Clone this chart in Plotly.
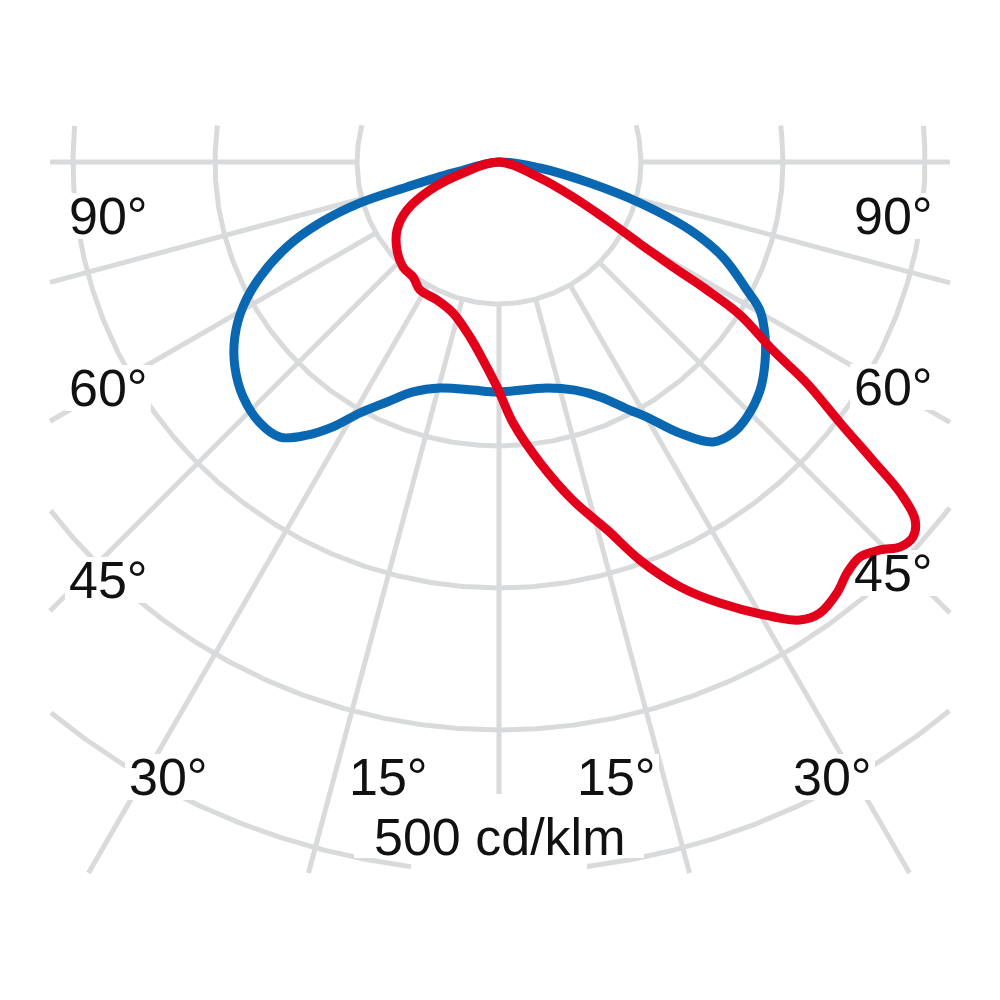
import numpy as np
import plotly.graph_objects as go

# ---------------- data (gamma = angle from nadir in degrees, intensity in cd/klm)
# C0-C180 plane (blue)
blue_gamma = [-90, -76.6, -74.8, -73.6, -71.2, -68.2, -64.3, -60.5, -56.5, -52.2,
              -47.4, -42.5, -38.5, -35.1, -32.1, -29.0, -25.0, -20.5, -14.6, -6.5,
              -0.5, 12.0, 18.4, 23.3, 27.8, 30.1, 33.7, 37.4, 40.8, 44.2,
              48.9, 52.9, 56.7, 60.4, 62.7, 67.0, 70.4, 73.8, 77.0, 81.7, 90]
blue_I = [0, 33.3, 67.1, 102.0, 133.2, 160.8, 186.8, 207.2, 223.1, 235.4,
          244.7, 249.2, 247.6, 235.1, 220.2, 202.1, 186.5, 172.9, 164.5, 161.6,
          162.0, 162.7, 169.3, 180.1, 197.5, 207.6, 229.5, 248.2, 252.1, 250.5,
          244.1, 234.8, 224.2, 211.3, 196.5, 171.3, 142.8, 103.4, 65.8, 29.2, 0]

# C90-C270 plane (red)
red_gamma = [-90, -73.0, -67.9, -62.4, -56.3, -49.2, -42.4, -36.8, -31.7, -24.2,
             -16.9, -9.4, -4.6, -0.5, 3.1, 7.8, 12.3, 16.4, 19.5, 23.1,
             26.6, 31.1, 33.3, 35.4, 38.1, 40.3, 42.4, 44.5, 46.2, 47.8,
             49.3, 50.5, 51.4, 52.6, 54.3, 55.5, 57.6, 58.4, 58.9, 59.9,
             61.8, 64.7, 68.7, 90]
red_I = [0, 26.5, 52.4, 73.1, 86.3, 94.9, 100.2, 101.1, 105.9, 106.5,
         111.2, 124.9, 139.9, 158.5, 184.1, 213.9, 243.7, 270.1, 297.4, 325.3,
         347.4, 374.0, 385.9, 389.8, 385.7, 379.2, 376.8, 383.0, 391.5, 393.4,
         386.5, 366.2, 336.8, 302.4, 267.0, 234.0, 201.0, 172.0, 143.1, 114.5,
         86.3, 57.7, 31.0, 0]

ring_values = [100, 200, 300, 400, 500]
spoke_angles = [-90, -75, -60, -45, -30, -15, 0, 15, 30, 45, 60, 75, 90]
angle_labels = ["90°", "90°", "60°", "60°", "45°", "45°", "30°", "15°", "15°", "30°"]
scale_label = "500 cd/klm"

# ---------------- layout geometry (page pixels)
OFF = 8              # default page margin around the plot div
W = H = 984          # figure size
S = 1.42             # px per cd/klm
CX, CY = 499, 162    # pole position (page px)
CLIP = (50, 950, 125, 873)  # grid clip rectangle (page px): x0, x1, y0, y1

label_pos = [(108, 216), (893, 216), (108, 388), (893, 387), (108, 580), (893, 573),
             (168, 777), (388, 777), (616, 777), (832, 777)]
scale_pos = (499, 837)

GRID = "#d9dadb"
BLUE = "#0a67b2"
RED = "#e3001b"
FONT = dict(family="Liberation Sans, Arial, sans-serif", size=52, color="#111111")


def px2d(px, py):
    return (px - CX) / S, -(py - CY) / S


def pol2xy(g, r):
    g = np.radians(np.asarray(g, float))
    r = np.asarray(r, float)
    return r * np.sin(g), -r * np.cos(g)


x0d, y1d = px2d(CLIP[0], CLIP[2])
x1d, y0d = px2d(CLIP[1], CLIP[3])


def inside(x, y):
    return (x >= x0d) & (x <= x1d) & (y >= y0d) & (y <= y1d)


gx, gy = [], []
# rings
th = np.linspace(0, 360, 2881)
for rv in ring_values:
    xs, ys = pol2xy(th, np.full_like(th, rv))
    ok = inside(xs, ys)
    prev = False
    for xv, yv, o in zip(xs, ys, ok):
        if o:
            gx.append(xv); gy.append(yv)
        elif prev:
            gx.append(None); gy.append(None)
        prev = o
    gx.append(None); gy.append(None)
# spokes
for a in spoke_angles:
    dx, dy = np.sin(np.radians(a)), -np.cos(np.radians(a))
    ts = []
    if dx > 1e-9: ts.append(x1d / dx)
    if dx < -1e-9: ts.append(x0d / dx)
    if dy > 1e-9: ts.append(y1d / dy)
    if dy < -1e-9: ts.append(y0d / dy)
    t1 = min(ts)
    t0 = ring_values[0]
    gx += [t0 * dx, t1 * dx, None]
    gy += [t0 * dy, t1 * dy, None]

fig = go.Figure()
fig.add_trace(go.Scatter(x=gx, y=gy, mode="lines", line=dict(color=GRID, width=5),
                         hoverinfo="skip", showlegend=False))

# white masks behind labels (break the grid like the original)
mx, my = [], []
boxes = [(p, 86, 46) for p in label_pos]
boxes += [((scale_pos[0], scale_pos[1] - 11), 290, 64),   # text body
          ((scale_pos[0], scale_pos[1] + 33), 176, 26)]   # gap in the 500 ring
for (px, py), w, h in boxes:
    a, b = px2d(px - w / 2, py - h / 2)
    c, d = px2d(px + w / 2, py + h / 2)
    mx += [a, c, c, a, a, None]
    my += [b, b, d, d, b, None]
fig.add_trace(go.Scatter(x=mx, y=my, mode="lines", fill="toself", fillcolor="white",
                         line=dict(width=0, color="white"), hoverinfo="skip", showlegend=False))

bx, by = pol2xy(blue_gamma, blue_I)
rx, ry = pol2xy(red_gamma, red_I)
fig.add_trace(go.Scatter(x=bx, y=by, mode="lines",
                         line=dict(color=BLUE, width=9, shape="spline", smoothing=1.0),
                         name="C0-C180", showlegend=False))
fig.add_trace(go.Scatter(x=rx, y=ry, mode="lines",
                         line=dict(color=RED, width=9, shape="spline", smoothing=1.0),
                         name="C90-C270", showlegend=False))

ann = []
for t, (px, py) in zip(angle_labels + [scale_label], label_pos + [scale_pos]):
    x, y = px2d(px, py)
    ann.append(dict(x=x, y=y, xref="x", yref="y", text=t, showarrow=False,
                    font=FONT, borderpad=0, xanchor="center", yanchor="middle"))

fig.update_layout(
    width=W, height=H, margin=dict(l=0, r=0, t=0, b=0),
    paper_bgcolor="white", plot_bgcolor="white",
    xaxis=dict(range=[(OFF - CX) / S, (W + OFF - CX) / S], visible=False, fixedrange=True),
    yaxis=dict(range=[-(H + OFF - CY) / S, (CY - OFF) / S], visible=False, fixedrange=True),
    annotations=ann,
)
fig.write_html("out.html")
